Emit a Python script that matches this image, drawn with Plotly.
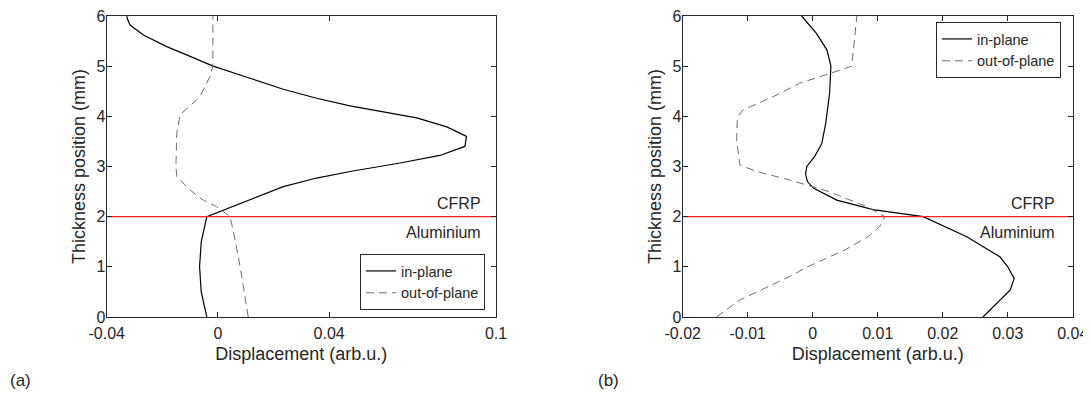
import plotly.graph_objects as go

# ---- data ----
a_in_y = [0, 0.5, 1, 1.5, 2, 2.33, 2.6, 2.77, 2.9, 3.07, 3.22, 3.4, 3.6, 3.79, 3.97, 4.09,
          4.21, 4.36, 4.54, 4.76, 5.0, 5.2, 5.39, 5.62, 5.82, 5.95, 6]
a_in_x = [-0.004, -0.006, -0.0066, -0.006, -0.004, 0.0115, 0.0235, 0.0355, 0.0475, 0.0655,
          0.0798, 0.0888, 0.0894, 0.0823, 0.0715, 0.0595, 0.0475, 0.0355, 0.0235, 0.0115,
          -0.0017, -0.0102, -0.0184, -0.0268, -0.0316, -0.0326, -0.0328]

a_out_y = [0, 0.5, 1, 1.5, 2, 2.2, 2.33, 2.53, 2.8, 3.0, 3.66, 4.03, 4.39, 4.79, 5.0, 6]
a_out_x = [0.0109, 0.0095, 0.008, 0.0063, 0.0044, -0.0005, -0.0053, -0.0100, -0.0148, -0.0151,
           -0.0148, -0.0136, -0.0065, -0.0029, -0.0018, -0.0018]

b_in_y = [0, 0.3, 0.54, 0.77, 1.0, 1.2, 1.6, 2.0, 2.14, 2.33, 2.45, 2.57, 2.7, 2.85, 3.0, 3.2,
          3.46, 3.86, 4.46, 5.0, 5.32, 5.65, 6.0]
b_in_x = [0.0262, 0.0285, 0.0304, 0.031, 0.030, 0.0288, 0.0237, 0.017, 0.0093, 0.0037, 0.0018,
          0.0001, -0.0008, -0.0011, -0.0009, 0.0003, 0.0014, 0.002, 0.0026, 0.0028, 0.0022,
          0.0006, -0.0017]

b_out_y = [0, 0.34, 0.81, 1.0, 1.34, 1.6, 1.8, 2.0, 2.2, 2.5, 2.73, 2.9, 3.03, 3.53, 3.99, 4.13,
           4.39, 4.66, 4.92, 5.0, 6.0]
b_out_x = [-0.0148, -0.0112, -0.0035, -0.0008, 0.005, 0.0085, 0.0103, 0.0111, 0.0083, 0.0025,
           -0.0035, -0.0086, -0.0112, -0.0117, -0.0116, -0.0107, -0.0061, -0.002, 0.0042, 0.006,
           0.0068]

interface_y = 2.0
series_names = ["in-plane", "out-of-plane"]
a_xticks = [-0.04, 0, 0.04, 0.1]
a_xticklabels = ["-0.04", "0", "0.04", "0.1"]
b_xticks = [-0.02, -0.01, 0, 0.01, 0.02, 0.03, 0.04]
b_xticklabels = ["-0.02", "-0.01", "0", "0.01", "0.02", "0.03", "0.04"]
yticks = [0, 1, 2, 3, 4, 5, 6]
layer_labels = ["CFRP", "Aluminium"]
panel_labels = ["(a)", "(b)"]

FONT = "Liberation Sans, Arial, sans-serif"
TXT = "#262626"
SOLID = "#000000"
DASH = "#6e6e6e"
RED = "#ff2020"

fig = go.Figure()

# panel (a)
fig.add_trace(go.Scatter(x=a_in_x, y=a_in_y, mode="lines", name=series_names[0],
                         line=dict(color=SOLID, width=1.2), xaxis="x", yaxis="y", legend="legend"))
fig.add_trace(go.Scatter(x=a_out_x, y=a_out_y, mode="lines", name=series_names[1],
                         line=dict(color=DASH, width=1, dash="8px,5px"), xaxis="x", yaxis="y",
                         legend="legend"))
fig.add_trace(go.Scatter(x=[a_xticks[0], a_xticks[-1]], y=[interface_y, interface_y], mode="lines",
                         line=dict(color=RED, width=1.2), showlegend=False,
                         xaxis="x", yaxis="y", hoverinfo="skip"))

# panel (b)
fig.add_trace(go.Scatter(x=b_in_x, y=b_in_y, mode="lines", name=series_names[0],
                         line=dict(color=SOLID, width=1.2), xaxis="x2", yaxis="y2", legend="legend2"))
fig.add_trace(go.Scatter(x=b_out_x, y=b_out_y, mode="lines", name=series_names[1],
                         line=dict(color=DASH, width=1, dash="8px,5px"), xaxis="x2", yaxis="y2",
                         legend="legend2"))
fig.add_trace(go.Scatter(x=[b_xticks[0], b_xticks[-1]], y=[interface_y, interface_y], mode="lines",
                         line=dict(color=RED, width=1.2), showlegend=False,
                         xaxis="x2", yaxis="y2", hoverinfo="skip"))

# page body has an 8px margin, so the figure is 8px smaller and positions are offset by 8
OFF = 8
W, H = 1091 - OFF, 394 - OFF
ydom = [(H - (317 - OFF)) / H, (H - (16 - OFF)) / H]

common_x = dict(showgrid=False, zeroline=False, showline=True, linecolor=TXT, linewidth=1,
                mirror="ticks", ticks="inside", ticklen=5, tickcolor=TXT, tickwidth=1,
                automargin=False, ticklabelstandoff=2, ticklabeloverflow="allow",
                tickfont=dict(size=16, color=TXT, family=FONT),
                title=dict(text="Displacement (arb.u.)", font=dict(size=18, color=TXT, family=FONT),
                           standoff=6))
common_y = dict(showgrid=False, zeroline=False, showline=True, linecolor=TXT, linewidth=1,
                mirror="ticks", ticks="inside", ticklen=5, tickcolor=TXT, tickwidth=1,
                automargin=False, ticklabelstandoff=-3, ticklabeloverflow="allow",
                tickfont=dict(size=16, color=TXT, family=FONT), range=[0, 6],
                tickvals=yticks, ticktext=[str(v) for v in yticks], domain=ydom,
                title=dict(text="Thickness position (mm)", font=dict(size=18, color=TXT, family=FONT),
                           standoff=6))

legend_common = dict(bgcolor="white", bordercolor="#262626", borderwidth=1,
                     font=dict(size=14.5, color=TXT, family=FONT), tracegroupgap=0,
                     itemwidth=30)

fig.update_layout(
    width=W, height=H,
    margin=dict(l=0, r=0, t=0, b=0, pad=0, autoexpand=False),
    paper_bgcolor="white", plot_bgcolor="white",
    font=dict(family=FONT, color=TXT),
    xaxis=dict(common_x, domain=[(106.7 - OFF) / W, (496 - OFF) / W], range=[a_xticks[0], a_xticks[-1]],
               tickvals=a_xticks, ticktext=a_xticklabels, anchor="y"),
    yaxis=dict(common_y, anchor="x"),
    xaxis2=dict(common_x, domain=[(682.7 - OFF) / W, (1072.7 - OFF) / W], range=[b_xticks[0], b_xticks[-1]],
                tickvals=b_xticks, ticktext=b_xticklabels, anchor="y2"),
    yaxis2=dict(common_y, anchor="x2"),
    legend=dict(legend_common, x=(485 - OFF) / W, y=(H - (310 - OFF)) / H, xanchor="right", yanchor="bottom"),
    legend2=dict(legend_common, x=(1061 - OFF) / W, y=(H - (22 - OFF)) / H, xanchor="right", yanchor="top"),
    showlegend=True,
)

ann_font = dict(size=16, color=TXT, family=FONT)
fig.add_annotation(x=0.0955, y=2.26, xref="x", yref="y", text=layer_labels[0], showarrow=False,
                   xanchor="right", yanchor="middle", font=ann_font)
fig.add_annotation(x=0.0955, y=1.68, xref="x", yref="y", text=layer_labels[1], showarrow=False,
                   xanchor="right", yanchor="middle", font=ann_font)
fig.add_annotation(x=0.0376, y=2.26, xref="x2", yref="y2", text=layer_labels[0], showarrow=False,
                   xanchor="right", yanchor="middle", font=ann_font)
fig.add_annotation(x=0.0376, y=1.68, xref="x2", yref="y2", text=layer_labels[1], showarrow=False,
                   xanchor="right", yanchor="middle", font=ann_font)

fig.add_annotation(x=0, y=(H - (380 - OFF)) / H, xref="paper", yref="paper", text=panel_labels[0],
                   showarrow=False, xanchor="left", yanchor="middle", font=dict(size=17, color=TXT, family=FONT))
fig.add_annotation(x=(596 - OFF) / W, y=(H - (380 - OFF)) / H, xref="paper", yref="paper", text=panel_labels[1],
                   showarrow=False, xanchor="left", yanchor="middle", font=dict(size=17, color=TXT, family=FONT))

fig.write_html("out.html")
